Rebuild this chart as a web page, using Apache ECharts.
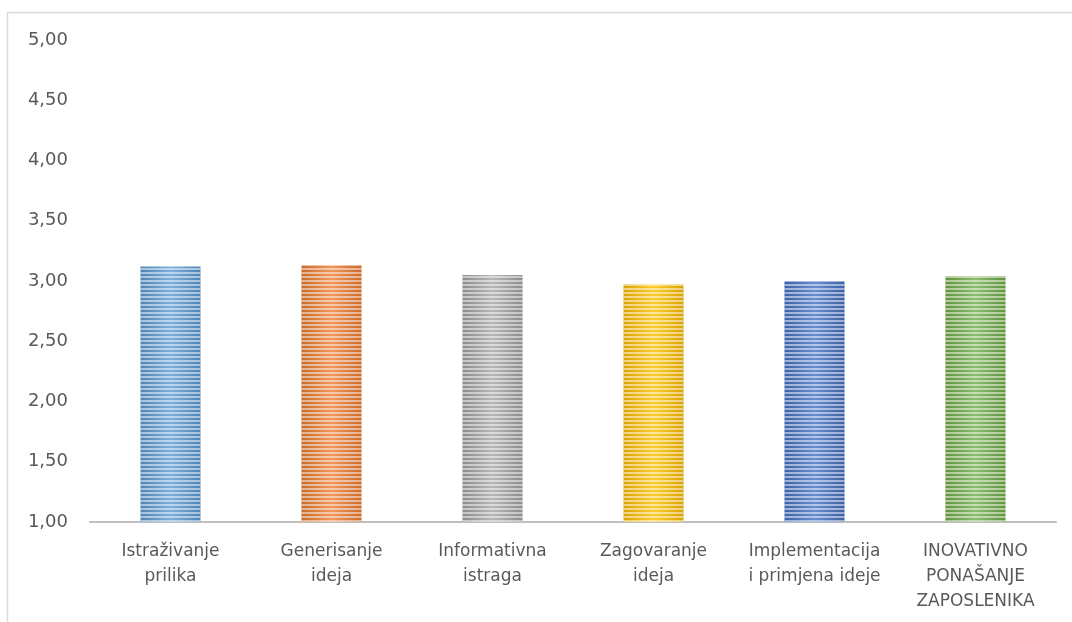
<!DOCTYPE html>
<html>
<head>
<meta charset="utf-8">
<style>
  html, body { margin: 0; padding: 0; background: #ffffff; }
  #chart { width: 1072px; height: 622px; }
</style>
<script src="https://cdn.jsdelivr.net/npm/echarts@6/dist/echarts.min.js"></script>
</head>
<body>
<div id="chart"></div>
<script>
const categories = [
  "Istraživanje\nprilika",
  "Generisanje\nideja",
  "Informativna\nistraga",
  "Zagovaranje\nideja",
  "Implementacija\ni primjena ideje",
  "INOVATIVNO\nPONAŠANJE\nZAPOSLENIKA"
];
const values = [3.12, 3.13, 3.05, 2.97, 3.00, 3.04];
const barColors = ["#5B9BD5", "#ED7D31", "#A5A5A5", "#FFC000", "#4472C4", "#70AD47"];
const yMin = 1, yMax = 5, yStep = 0.5;

const chart = echarts.init(document.getElementById('chart'), null, { renderer: 'canvas' });

function shade(hex, f) {
  const n = parseInt(hex.slice(1), 16);
  let r = (n >> 16) & 255, g = (n >> 8) & 255, b = n & 255;
  if (f < 0) { r = Math.round(r * (1 + f)); g = Math.round(g * (1 + f)); b = Math.round(b * (1 + f)); }
  else { r = Math.round(r + (255 - r) * f); g = Math.round(g + (255 - g) * f); b = Math.round(b + (255 - b) * f); }
  return 'rgb(' + r + ',' + g + ',' + b + ')';
}

const data = values.map((v, i) => ({
  value: v,
  itemStyle: {
    color: new echarts.graphic.LinearGradient(0, 0, 1, 0, [
      { offset: 0, color: shade(barColors[i], -0.15) },
      { offset: 0.5, color: shade(barColors[i], 0.2) },
      { offset: 1, color: shade(barColors[i], -0.15) }
    ]),
    decal: {
      symbol: 'rect',
      symbolSize: 1,
      dashArrayX: [1, 0],
      dashArrayY: [1.5, 1.5],
      rotation: 0,
      color: 'rgba(255,255,255,0.5)'
    }
  }
}));

const option = {
  backgroundColor: '#ffffff',
  animation: false,
  graphic: [{
    type: 'rect',
    shape: { x: 7.5, y: 12.5, width: 1200, height: 800 },
    style: { fill: 'none', stroke: '#d9d9d9', lineWidth: 1.5 },
    silent: true
  }],
  grid: { left: 90, right: 16, top: 40, bottom: 100, containLabel: false },
  xAxis: {
    type: 'category',
    data: categories,
    axisLine: { show: true, lineStyle: { color: '#bfbfbf', width: 2 } },
    axisTick: { show: false },
    axisLabel: {
      color: '#595959',
      fontFamily: 'DejaVu Sans',
      fontSize: 17,
      lineHeight: 25,
      margin: 17,
      interval: 0
    }
  },
  yAxis: {
    type: 'value',
    min: yMin,
    max: yMax,
    interval: yStep,
    axisLine: { show: false },
    axisTick: { show: false },
    splitLine: { show: false },
    axisLabel: {
      color: '#595959',
      fontFamily: 'DejaVu Sans',
      fontSize: 18,
      margin: 22,
      formatter: v => v.toFixed(2).replace('.', ',')
    }
  },
  series: [{
    type: 'bar',
    data: data,
    barWidth: 60
  }]
};
chart.setOption(option);
</script>
</body>
</html>
